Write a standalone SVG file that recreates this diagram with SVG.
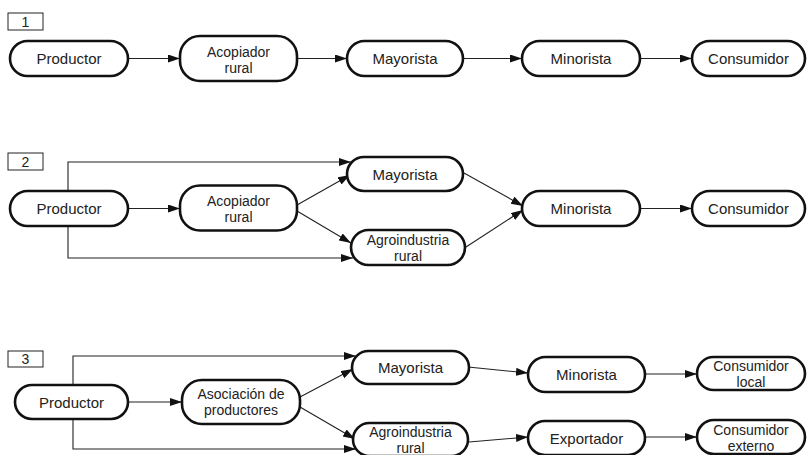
<svg xmlns="http://www.w3.org/2000/svg" width="807" height="455" viewBox="0 0 807 455">
<defs>
<style>
.n{fill:#fff;stroke:#111;stroke-width:2.6}
.t{font-family:"Liberation Sans",Arial,sans-serif;font-size:15px;fill:#222;text-anchor:middle}
.t2{font-family:"Liberation Sans",Arial,sans-serif;font-size:14px;fill:#222;text-anchor:middle}
.lb{fill:#fff;stroke:#222;stroke-width:1}
.lt{font-family:"Liberation Sans",Arial,sans-serif;font-size:14px;fill:#222;text-anchor:middle}
.c{fill:none;stroke:#222;stroke-width:1.1;marker-end:url(#ah)}
</style>
<marker id="ah" markerUnits="userSpaceOnUse" markerWidth="13" markerHeight="9" refX="12" refY="4" orient="auto">
<path d="M0,0 L12,4 L0,8 z" fill="#111"/>
</marker>
</defs>
<rect width="807" height="455" fill="#fff"/>

<g id="label1"><rect class="lb" x="8" y="13" width="35" height="17"/><text class="lt" x="25.5" y="27">1</text></g>
<g id="label2"><rect class="lb" x="8" y="153" width="35" height="17"/><text class="lt" x="25.5" y="167">2</text></g>
<g id="label3"><rect class="lb" x="8" y="351" width="35" height="16"/><text class="lt" x="25.5" y="364">3</text></g>

<g id="connectors">
<line class="c" x1="128" y1="58.5" x2="180" y2="58.5"/>
<line class="c" x1="297" y1="58.5" x2="347" y2="58.5"/>
<line class="c" x1="463" y1="58.5" x2="522" y2="58.5"/>
<line class="c" x1="640" y1="58.5" x2="692" y2="58.5"/>
<line class="c" x1="128" y1="208.5" x2="180" y2="208.5"/>
<polyline class="c" points="68,191 68,162 351,162"/>
<polyline class="c" points="68,226 68,258 353,258"/>
<line class="c" x1="297" y1="205" x2="350" y2="175"/>
<line class="c" x1="297" y1="211" x2="351" y2="243"/>
<line class="c" x1="464" y1="173" x2="523" y2="206"/>
<line class="c" x1="466" y1="247" x2="523" y2="210"/>
<line class="c" x1="640" y1="208.5" x2="692" y2="208.5"/>
<line class="c" x1="128" y1="402" x2="182" y2="402"/>
<polyline class="c" points="73,385 73,356 356,356"/>
<polyline class="c" points="73,419 73,449 356,449"/>
<line class="c" x1="300" y1="397" x2="353" y2="369"/>
<line class="c" x1="300" y1="407" x2="355" y2="439"/>
<line class="c" x1="468" y1="367" x2="528" y2="373"/>
<line class="c" x1="469" y1="442" x2="528" y2="437"/>
<line class="c" x1="645" y1="374" x2="697" y2="374"/>
<line class="c" x1="645" y1="437" x2="697" y2="437"/>
</g>

<g id="r1-productor"><rect class="n" x="10" y="41" width="118" height="35" rx="17.5"/><text class="t" x="69" y="64">Productor</text></g>
<g id="r1-acopiador"><rect class="n" x="180" y="36" width="117" height="45" rx="20"/><text class="t2" x="238.5" y="56.5">Acopiador</text><text class="t2" x="238.5" y="72.5">rural</text></g>
<g id="r1-mayorista"><rect class="n" x="347" y="41" width="116" height="35" rx="17.5"/><text class="t" x="405" y="64">Mayorista</text></g>
<g id="r1-minorista"><rect class="n" x="522" y="41" width="118" height="35" rx="17.5"/><text class="t" x="581" y="64">Minorista</text></g>
<g id="r1-consumidor"><rect class="n" x="692" y="41" width="113" height="35" rx="17.5"/><text class="t" x="748.5" y="64">Consumidor</text></g>

<g id="r2-productor"><rect class="n" x="10" y="191" width="118" height="35" rx="17.5"/><text class="t" x="69" y="214">Productor</text></g>
<g id="r2-acopiador"><rect class="n" x="180" y="185.5" width="117" height="45" rx="20"/><text class="t2" x="238.5" y="206">Acopiador</text><text class="t2" x="238.5" y="222">rural</text></g>
<g id="r2-mayorista"><rect class="n" x="347" y="157" width="116" height="34" rx="17"/><text class="t" x="405" y="179.5">Mayorista</text></g>
<g id="r2-agroindustria"><rect class="n" x="351" y="230" width="114" height="35" rx="17.5"/><text class="t2" x="408" y="245">Agroindustria</text><text class="t2" x="408" y="261">rural</text></g>
<g id="r2-minorista"><rect class="n" x="522" y="191" width="118" height="35" rx="17.5"/><text class="t" x="581" y="214">Minorista</text></g>
<g id="r2-consumidor"><rect class="n" x="692" y="191" width="113" height="35" rx="17.5"/><text class="t" x="748.5" y="214">Consumidor</text></g>

<g id="r3-productor"><rect class="n" x="15" y="385" width="113" height="34" rx="17"/><text class="t" x="71.5" y="407.5">Productor</text></g>
<g id="r3-asociacion"><rect class="n" x="182" y="380" width="118" height="44" rx="20"/><text class="t2" x="241" y="399">Asociación de</text><text class="t2" x="241" y="415">productores</text></g>
<g id="r3-mayorista"><rect class="n" x="352" y="351" width="117" height="33" rx="16.5"/><text class="t" x="410.5" y="373">Mayorista</text></g>
<g id="r3-agroindustria"><rect class="n" x="353" y="423" width="115" height="33" rx="16.5"/><text class="t2" x="410.5" y="437">Agroindustria</text><text class="t2" x="410.5" y="453">rural</text></g>
<g id="r3-minorista"><rect class="n" x="528" y="357" width="117" height="35" rx="17.5"/><text class="t" x="586.5" y="380">Minorista</text></g>
<g id="r3-exportador"><rect class="n" x="528" y="421" width="117" height="34" rx="17"/><text class="t" x="586.5" y="443.5">Exportador</text></g>
<g id="r3-consumidor-local"><rect class="n" x="697" y="357" width="108" height="33" rx="16.5"/><text class="t2" x="751" y="371">Consumidor</text><text class="t2" x="751" y="387">local</text></g>
<g id="r3-consumidor-externo"><rect class="n" x="697" y="420" width="108" height="34" rx="17"/><text class="t2" x="751" y="434.5">Consumidor</text><text class="t2" x="751" y="450.5">externo</text></g>
</svg>
